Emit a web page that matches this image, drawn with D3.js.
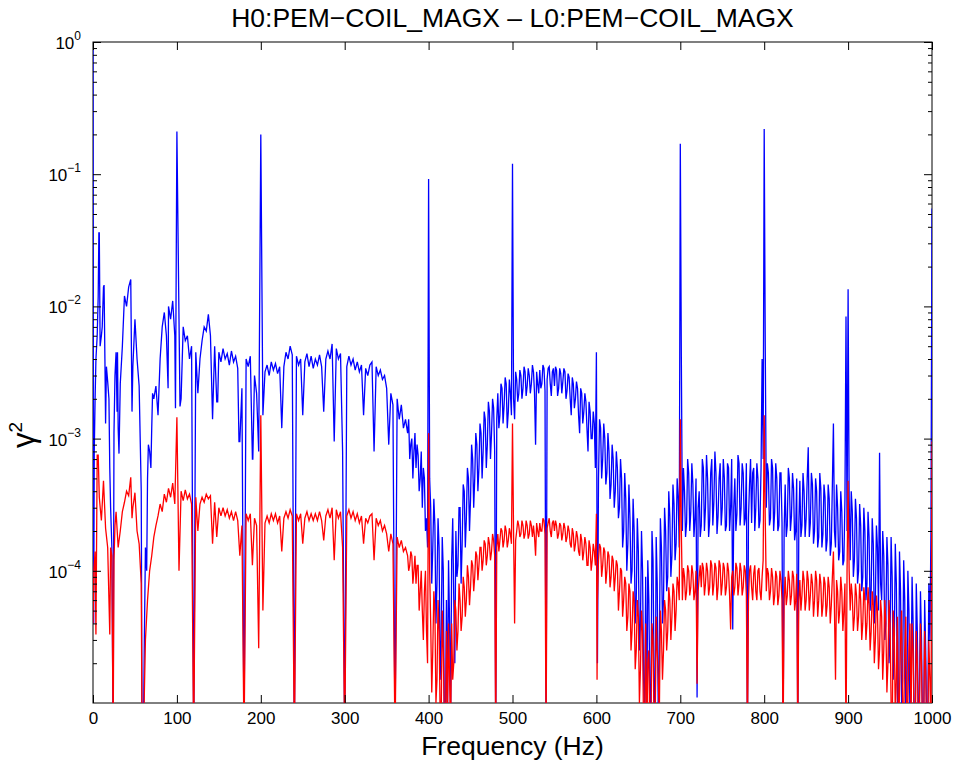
<!DOCTYPE html>
<html>
<head>
<meta charset="utf-8">
<script src="https://cdn.jsdelivr.net/npm/d3@7"></script>
<style>
  body { margin: 0; background: #fff; }
  text { font-family: "Liberation Sans", Arial, Helvetica, sans-serif; fill: #000; }
</style>
</head>
<body>
<svg id="chart"></svg>
<script>
// coherence spectra, sampled every 2.5 Hz (index * freqStep = frequency)
const freqStep = 2.5;
// the noisier upper band also has samples half way between grid points
const midStart = 376.25;

// H0 coherence (blue)
const blueGrid = [
  0.9, 2e-3, 6e-3, 3.6e-2, 6e-3, 1.4e-2, 1.3e-3, 2.7e-3, 6e-4, 1.5e-4,
  1.1e-3, 4.5e-3, 1.2e-3, 2.6e-3, 5e-3, 1.2e-2, 1e-2, 1.4e-2, 1.6e-2, 3.5e-3,
  8e-3, 4e-3, 2.5e-3, 4e-4, 5e-6, 1.5e-4, 5e-4, 8e-4, 1.2e-3, 2e-3,
  2.5e-3, 1.5e-3, 4e-3, 7e-3, 9e-3, 6e-3, 1e-2, 8e-3, 1.1e-2, 6e-3,
  0.21, 8e-3, 2e-3, 7e-3, 5.5e-3, 6e-3, 4e-3, 5e-3, 5e-6, 4.5e-3,
  2.2e-3, 4e-3, 5.5e-3, 7e-3, 6.5e-3, 8.7e-3, 6e-3, 1.4e-3, 5e-3, 1.9e-3,
  4.5e-3, 3.8e-3, 4.8e-3, 4e-3, 4.4e-3, 3.6e-3, 4.6e-3, 3.8e-3, 4.2e-3, 3.4e-3,
  9.5e-4, 2.4e-3, 5e-6, 4e-3, 3.5e-3, 4.2e-3, 7e-4, 3e-3, 2.2e-3, 8e-4,
  0.2, 1.5e-3, 3.2e-3, 3.6e-3, 3e-3, 3.8e-3, 3.3e-3, 3.7e-3, 3.1e-3, 3.5e-3,
  1.2e-3, 3.5e-3, 4.5e-3, 4e-3, 5e-3, 4.3e-3, 5e-6, 4.2e-3, 3.6e-3, 4e-3,
  1.5e-3, 3.8e-3, 4.4e-3, 3.5e-3, 4.2e-3, 3.4e-3, 4e-3, 3.6e-3, 4.3e-3, 3.5e-3,
  1.6e-3, 4e-3, 4.6e-3, 4e-3, 5.2e-3, 9.5e-4, 4.8e-3, 4e-3, 4.4e-3, 8e-4,
  5e-6, 3.5e-3, 4.2e-3, 3.6e-3, 4e-3, 3.3e-3, 3.8e-3, 3.2e-3, 3.6e-3, 1.5e-3,
  3.4e-3, 3e-3, 3.6e-3, 3.8e-3, 8e-4, 3.5e-3, 3e-3, 3.3e-3, 2.8e-3, 3e-3,
  2.4e-3, 9e-4, 2.2e-3, 1.8e-3, 5e-6, 2e-3, 1.4e-3, 1.8e-3, 1.2e-3, 1.4e-3,
  1.1e-3, 7e-4, 1e-3, 8e-4, 6e-4, 7.5e-4, 5e-4, 3e-4, 5e-4, 2.5e-4,
  9.2e-2, 3e-4, 1.5e-4, 2.2e-4, 8e-5, 1.5e-4, 3e-5, 1e-4, 5e-6, 8e-6,
  4e-5, 1.2e-4, 6e-5, 2e-4, 1.1e-4, 3e-4, 1.6e-4, 4e-4, 2.5e-4, 5e-4,
  3.5e-4, 7e-4, 5e-4, 9e-4, 6e-4, 1.1e-3, 8e-4, 1.4e-3, 9e-4, 1.6e-3,
  1.1e-3, 1.7e-3, 5e-6, 2.2e-3, 1.5e-3, 2.4e-3, 1.8e-3, 2.6e-3, 1.6e-3, 2.2e-3,
  0.12, 1.4e-3, 2.8e-3, 2.2e-3, 3e-3, 2.4e-3, 3.2e-3, 2.5e-3, 3e-3, 2.6e-3,
  3.2e-3, 9e-4, 2.6e-3, 3.3e-3, 2.6e-3, 3.4e-3, 5e-6, 3.4e-3, 2.6e-3, 3.2e-3,
  2.5e-3, 3.3e-3, 2.4e-3, 3.1e-3, 2.7e-3, 3.2e-3, 2.3e-3, 2.9e-3, 1.5e-3, 2.6e-3,
  2e-3, 2.4e-3, 1.1e-3, 2.2e-3, 1.6e-3, 1.9e-3, 8e-4, 1.6e-3, 1e-3, 1.3e-3,
  4.5e-3, 5e-4, 1.2e-3, 7e-4, 1e-3, 5.5e-4, 8e-4, 4.5e-4, 7e-4, 4e-4,
  6e-4, 3e-4, 5e-4, 2e-4, 3.5e-4, 1.6e-4, 2.5e-4, 1e-4, 2e-4, 6e-5,
  1.4e-4, 4e-5, 1e-4, 8e-6, 5e-6, 6e-5, 8e-6, 1.2e-4, 6e-6, 8e-5,
  2e-5, 1.5e-4, 6e-5, 2e-4, 9e-5, 2.6e-4, 1.3e-4, 3.2e-4, 1.6e-4, 3.5e-4,
  0.17, 2e-4, 4e-4, 2.3e-4, 5.5e-4, 2.8e-4, 4.5e-4, 2.5e-4, 1.1e-5, 4e-4,
  2.2e-4, 6e-4, 3e-4, 5e-4, 2.4e-4, 7e-4, 3.3e-4, 5.5e-4, 2.6e-4, 6.5e-4,
  3e-4, 5e-4, 2.2e-4, 6e-4, 3e-4, 3.6e-5, 5e-4, 2.7e-4, 6.5e-4, 3e-4,
  5.5e-4, 2.5e-4, 5e-6, 4.5e-4, 2.3e-4, 6e-4, 3e-4, 5e-4, 2.4e-4, 4e-3,
  0.22, 3e-4, 5.5e-4, 2.5e-4, 6e-4, 2.8e-4, 5e-4, 2.2e-4, 5.5e-4, 5e-6,
  4.5e-4, 2.2e-4, 5e-4, 2.6e-4, 4.2e-4, 2e-4, 5e-6, 4.8e-4, 2.2e-4, 4e-4,
  2.5e-4, 8.6e-4, 2.3e-4, 4.5e-4, 2e-4, 4e-4, 1.8e-4, 4.2e-4, 1.9e-4, 3.6e-4,
  1.7e-4, 3.5e-4, 1.6e-4, 1.3e-3, 1.5e-4, 3e-4, 1.4e-4, 2.8e-4, 1.2e-4, 8.4e-3,
  1.35e-2, 1.2e-4, 2.8e-4, 1.2e-4, 2.5e-4, 1e-4, 2.2e-4, 9e-5, 2e-4, 8e-5,
  1.8e-4, 7e-5, 1.6e-4, 6e-5, 1.5e-4, 7.8e-4, 6e-5, 1.3e-4, 4e-5, 1.1e-4,
  3e-5, 9e-5, 2.5e-5, 8e-5, 5e-6, 7e-5, 1.5e-5, 6e-5, 8e-6, 5e-5,
  1.2e-5, 4e-5, 6e-6, 3.5e-5, 1e-5, 3e-5, 6e-6, 2.5e-5, 8e-6, 3e-5,
  5.5e-2
];

// blue, half-step samples from 376.25 Hz
const blueMid = [
  1.4e-3, 9e-4, 5e-4, 1.1e-3, 9e-4, 4e-4, 8e-4, 6e-4, 2e-4, 1.5e-4,
  5e-4, 8e-5, 3.5e-4, 4e-5, 2.5e-4, 1.5e-5, 1.8e-4, 8e-6, 6e-5, 1.2e-4,
  8e-6, 2.5e-4, 2e-5, 9e-5, 3e-4, 8e-5, 4.5e-4, 1.5e-4, 6e-4, 2e-4,
  9e-4, 3e-4, 1.1e-3, 4e-4, 1.3e-3, 5e-4, 1.6e-3, 6e-4, 1.9e-3, 7e-4,
  2e-3, 8e-4, 1.4e-3, 1.2e-3, 2.6e-3, 1.3e-3, 2.9e-3, 1.2e-3, 2.8e-3, 1.5e-3,
  2e-3, 3.2e-3, 1.9e-3, 3.3e-3, 2e-3, 3.5e-3, 2.1e-3, 3.4e-3, 2.2e-3, 3.6e-3,
  2.2e-3, 3.2e-3, 2.2e-3, 2.4e-3, 3.6e-3, 2.3e-3, 2.8e-3, 3.5e-3, 2.1e-3, 3.4e-3,
  3.5e-3, 2.1e-3, 3.4e-3, 2.2e-3, 3.4e-3, 2e-3, 3.1e-3, 2e-3, 2.9e-3, 1.7e-3,
  2.7e-3, 1.5e-3, 2.4e-3, 1.3e-3, 2.2e-3, 1.2e-3, 1.9e-3, 1e-3, 1.6e-3, 6e-4,
  2e-5, 1.4e-3, 5e-4, 1.3e-3, 4.5e-4, 1.1e-3, 3.5e-4, 9e-4, 3e-4, 8e-4,
  2.5e-4, 7e-4, 1.5e-4, 5.5e-4, 1e-4, 4.5e-4, 8e-5, 3.5e-4, 4e-5, 2.5e-4,
  2.5e-5, 2e-4, 1.5e-5, 9e-5, 1.2e-4, 1.2e-5, 2e-4, 1.5e-5, 1.8e-4, 8e-6,
  2.5e-4, 4e-5, 3e-4, 7e-5, 4e-4, 9e-5, 4.5e-4, 1.2e-4, 5e-4, 1.5e-4,
  4e-3, 6e-4, 1.8e-4, 7e-4, 2e-4, 6.5e-4, 1.8e-4, 5e-4, 3e-4, 1.8e-4,
  7e-4, 2e-4, 7.5e-4, 1.8e-4, 5.5e-4, 2.2e-4, 8e-4, 1.9e-4, 5e-4, 2.2e-4,
  7e-4, 2e-4, 6.5e-4, 2e-4, 7e-4, 3e-4, 2e-4, 7.5e-4, 2.2e-4, 6.5e-4,
  2.2e-4, 6.5e-4, 2.5e-4, 7e-4, 5.5e-4, 2e-4, 6.5e-4, 2.1e-4, 6e-4, 7e-4,
  5e-3, 6.5e-4, 2.2e-4, 7e-4, 2e-4, 6.5e-4, 2e-4, 5.5e-4, 2.3e-4, 2e-4,
  1.8e-4, 6e-4, 2e-4, 5.5e-4, 1.7e-4, 5e-4, 2.2e-4, 1.8e-4, 5.5e-4, 1.8e-4,
  5e-4, 1.8e-4, 5.5e-4, 1.6e-4, 5e-4, 1.5e-4, 5.5e-4, 1.5e-4, 4.5e-4, 1.4e-4,
  4.5e-4, 1.3e-4, 4.5e-4, 2e-4, 4.5e-4, 1.2e-4, 4e-4, 1.1e-4, 3.5e-4, 2e-4,
  3.5e-4, 4e-4, 9e-5, 3.5e-4, 8e-5, 3.2e-4, 7e-5, 3e-4, 6e-5, 2.8e-4,
  5e-5, 2.5e-4, 4e-5, 2.2e-4, 5e-5, 8e-5, 2e-4, 3e-5, 1.8e-4, 2e-5,
  1.8e-4, 1.5e-5, 1.6e-4, 1.2e-5, 1.4e-4, 1e-5, 1.2e-4, 8e-6, 1e-4, 7e-6,
  9e-5, 6e-6, 8e-5, 7e-6, 7e-5, 6e-6, 6e-5, 6e-6, 8e-5, 2e-4
];

// extra blue samples between grid points (narrow peaks and notches)
const blueExtra = [
  [0.8, 4e-5], [1.5, 8e-4], [3.5, 4e-3], [6.2, 1.2e-2], [7, 3.6e-2], [8.5, 5e-3],
  [11, 7e-3], [13.2, 1.45e-2], [14.2, 4e-3], [16, 3.5e-3], [19, 2e-3], [21, 3e-4],
  [24, 5e-6], [26.2, 3e-3], [28.7, 1.6e-3], [29.2, 4.5e-3], [31, 7.7e-4], [46.5, 1.6e-3],
  [58.5, 5e-6], [61.2, 3e-5], [64, 1e-4], [66, 9e-4], [69, 6e-4], [71, 2.2e-3],
  [89.5, 2.4e-3], [98.3, 1.7e-3], [103.7, 1.75e-3], [148.6, 1.9e-3], [174, 9.5e-4], [190.5, 7e-4]
];

// L0 coherence (red)
const redGrid = [
  4e-5, 1.4e-4, 7.5e-4, 3.6e-4, 2.4e-4, 4.8e-4, 2.1e-4, 1.5e-4, 3.3e-5, 1.3e-4,
  1.2e-4, 2.8e-4, 1.5e-4, 2e-4, 2.8e-4, 3.3e-4, 4e-4, 3.7e-4, 5.1e-4, 3e-4,
  3.9e-4, 2e-4, 1.6e-4, 8e-5, 5e-6, 3e-5, 6e-5, 1e-4, 1.3e-4, 1.8e-4,
  2.2e-4, 2.6e-4, 3.2e-4, 2.8e-4, 3.8e-4, 3.3e-4, 4.2e-4, 3.6e-4, 4.6e-4, 3.2e-4,
  1.45e-3, 1e-4, 4e-4, 3.4e-4, 4.1e-4, 3.5e-4, 3.8e-4, 3.2e-4, 5e-6, 3.6e-4,
  2e-4, 3.2e-4, 3.6e-4, 3.3e-4, 3.8e-4, 3.5e-4, 3.7e-4, 1.6e-4, 3.3e-4, 1.8e-4,
  3e-4, 2.6e-4, 3e-4, 2.6e-4, 2.9e-4, 2.5e-4, 2.8e-4, 2.4e-4, 2.8e-4, 2.4e-4,
  1.3e-4, 2.2e-4, 5e-6, 2.7e-4, 2.4e-4, 2.7e-4, 1.1e-4, 2.5e-4, 2.2e-4, 2.6e-5,
  1.5e-3, 5e-5, 2.3e-4, 2.6e-4, 2.3e-4, 2.7e-4, 2.4e-4, 2.7e-4, 2.3e-4, 2.6e-4,
  1.4e-4, 2.5e-4, 2.8e-4, 2.5e-4, 2.9e-4, 2.6e-4, 5e-6, 2.7e-4, 2.4e-4, 2.7e-4,
  1.6e-4, 2.5e-4, 2.8e-4, 2.4e-4, 2.7e-4, 2.4e-4, 2.7e-4, 2.4e-4, 2.8e-4, 2.4e-4,
  1.7e-4, 2.6e-4, 2.9e-4, 2.5e-4, 3e-4, 1.2e-4, 2.9e-4, 2.5e-4, 2.8e-4, 1.5e-4,
  5e-6, 2.6e-4, 2.9e-4, 2.5e-4, 2.8e-4, 2.4e-4, 2.7e-4, 2.3e-4, 2.6e-4, 1.6e-4,
  2.5e-4, 2.3e-4, 2.6e-4, 2.7e-4, 1.2e-4, 2.5e-4, 2.2e-4, 2.4e-4, 2e-4, 2.2e-4,
  1.9e-4, 1.4e-4, 1.9e-4, 1.6e-4, 5e-6, 1.8e-4, 1.5e-4, 1.7e-4, 1.4e-4, 1.5e-4,
  1.3e-4, 1.1e-4, 1.3e-4, 1e-4, 8e-5, 1.1e-4, 7e-5, 5e-5, 7e-5, 3.5e-5,
  1.1e-3, 4e-5, 2.5e-5, 5e-5, 1.5e-5, 3.5e-5, 8e-6, 2.5e-5, 5e-6, 8e-6,
  1.5e-5, 4e-5, 2e-5, 5e-5, 3.5e-5, 6e-5, 4.5e-5, 7.5e-5, 6e-5, 9e-5,
  7.5e-5, 1.1e-4, 9e-5, 1.3e-4, 1.1e-4, 1.5e-4, 1.2e-4, 1.6e-4, 1.3e-4, 1.6e-4,
  1.4e-4, 1.7e-4, 5e-6, 1.9e-4, 1.7e-4, 2e-4, 1.7e-4, 2e-4, 1.7e-4, 1.9e-4,
  1.3e-3, 4e-5, 2e-4, 2.2e-4, 1.9e-4, 2.2e-4, 1.9e-4, 2.2e-4, 1.9e-4, 2.2e-4,
  2.2e-4, 1.3e-4, 2e-4, 2.3e-4, 2e-4, 2.4e-4, 5e-6, 2.3e-4, 2e-4, 2.3e-4,
  2e-4, 2.2e-4, 1.9e-4, 2.2e-4, 1.9e-4, 2.1e-4, 1.8e-4, 2e-4, 1.5e-4, 1.9e-4,
  1.6e-4, 1.8e-4, 1.3e-4, 1.7e-4, 1.4e-4, 1.6e-4, 1.1e-4, 1.5e-4, 1.2e-4, 1.4e-4,
  2.7e-4, 1.2e-4, 1.5e-4, 1.1e-4, 1.4e-4, 1e-4, 1.3e-4, 9e-5, 1.2e-4, 9e-5,
  1.1e-4, 7e-5, 1e-4, 6e-5, 8e-5, 4.5e-5, 7e-5, 3.5e-5, 6e-5, 2.5e-5,
  4.5e-5, 1.8e-5, 3.5e-5, 8e-6, 5e-6, 2.5e-5, 7e-6, 3e-5, 6e-6, 2.5e-5,
  8e-6, 3.5e-5, 2.5e-5, 5e-5, 3.5e-5, 6e-5, 4.5e-5, 7e-5, 5e-5, 8e-5,
  1.4e-3, 6e-5, 9e-5, 7e-5, 1e-4, 7.5e-5, 9.5e-5, 7e-5, 1.4e-5, 9e-5,
  7.5e-5, 1.05e-4, 8e-5, 1e-4, 7.5e-5, 1.1e-4, 8e-5, 1.05e-4, 7.5e-5, 1.1e-4,
  8e-5, 1.05e-4, 7.5e-5, 1e-4, 3.6e-5, 1e-4, 7.5e-5, 1.05e-4, 8e-5, 1e-4,
  7.5e-5, 1e-4, 5e-6, 1e-4, 7.5e-5, 9.5e-5, 7e-5, 1e-4, 7e-5, 9e-5,
  1.5e-3, 7e-5, 9.5e-5, 7e-5, 9e-5, 6.5e-5, 9e-5, 6.5e-5, 8.5e-5, 5e-6,
  9e-5, 6.5e-5, 8.5e-5, 6.5e-5, 9e-5, 6e-5, 5e-6, 8.5e-5, 6.5e-5, 8.5e-5,
  6e-5, 8.5e-5, 6.5e-5, 8e-5, 6e-5, 8.5e-5, 6e-5, 8e-5, 5.5e-5, 8e-5,
  5.5e-5, 7.5e-5, 5.5e-5, 1.4e-4, 1.5e-5, 7e-5, 5e-5, 7e-5, 5e-5, 5e-6,
  4.8e-4, 5e-5, 6.5e-5, 4.5e-5, 6.5e-5, 4.5e-5, 6e-5, 4e-5, 6e-5, 4e-5,
  5.5e-5, 3.5e-5, 5.5e-5, 3e-5, 5e-5, 2.5e-5, 4.5e-5, 2.5e-5, 4e-5, 2e-5,
  4e-5, 5e-6, 3.5e-5, 1.5e-5, 5e-6, 3e-5, 8e-6, 2.5e-5, 6e-6, 2.5e-5,
  7e-6, 2.5e-5, 5e-6, 2e-5, 8e-6, 2e-5, 5e-6, 1.8e-5, 6e-6, 1.5e-5,
  9.5e-4
];

// red, half-step samples from 376.25 Hz
const redMid = [
  1e-4, 1.4e-4, 8e-5, 1.3e-4, 1.1e-4, 5e-5, 1e-4, 3e-5, 1e-4, 2e-5,
  1e-4, 1.2e-5, 7e-5, 1e-5, 6e-5, 8e-6, 5e-5, 7e-6, 3.5e-5, 4e-5,
  6e-6, 1.5e-5, 6e-5, 2.5e-5, 8e-5, 3.5e-5, 9e-5, 4.5e-5, 1.1e-4, 5.5e-5,
  1.2e-4, 7e-5, 1.4e-4, 8.5e-5, 1.5e-4, 1e-4, 1.7e-4, 1.1e-4, 1.8e-4, 1.2e-4,
  1.9e-4, 1.3e-4, 1.5e-4, 1.4e-4, 2.1e-4, 1.5e-4, 2.2e-4, 1.5e-4, 2.1e-4, 1.6e-4,
  2e-4, 1.7e-4, 2.4e-4, 1.8e-4, 2.4e-4, 1.75e-4, 2.4e-4, 1.75e-4, 2.4e-4, 1.8e-4,
  1.8e-4, 2.3e-4, 1.8e-4, 2e-4, 2.5e-4, 1.9e-4, 2.1e-4, 2.5e-4, 1.8e-4, 2.4e-4,
  2.4e-4, 1.75e-4, 2.3e-4, 1.7e-4, 2.3e-4, 1.65e-4, 2.2e-4, 1.6e-4, 2.1e-4, 1.4e-4,
  2e-4, 1.4e-4, 1.9e-4, 1.2e-4, 1.8e-4, 1.1e-4, 1.7e-4, 1e-4, 1.6e-4, 1.1e-4,
  6e-5, 1.6e-4, 9e-5, 1.5e-4, 8e-5, 1.4e-4, 7.5e-5, 1.3e-4, 7e-5, 1.2e-4,
  5e-5, 1.05e-4, 4.5e-5, 9e-5, 3.5e-5, 8e-5, 2.5e-5, 7e-5, 1.8e-5, 6e-5,
  1e-5, 5e-5, 6e-6, 4e-5, 2e-5, 5e-6, 4e-5, 6e-6, 4.5e-5, 1.5e-5,
  5e-5, 1.5e-5, 6e-5, 2.5e-5, 7.5e-5, 3e-5, 8e-5, 3.5e-5, 9e-5, 6e-5,
  2e-4, 1.05e-4, 6e-5, 1.1e-4, 6.5e-5, 1.1e-4, 6e-5, 1e-4, 7e-5, 1.1e-4,
  1.15e-4, 6.5e-5, 1.15e-4, 6.5e-5, 1.2e-4, 6.5e-5, 1.15e-4, 6e-5, 1.2e-4, 6.5e-5,
  1.15e-4, 6.5e-5, 1.15e-4, 6.5e-5, 9e-5, 6.5e-5, 1.15e-4, 6.5e-5, 1.15e-4, 6.5e-5,
  1.1e-4, 6.5e-5, 6e-5, 1.1e-4, 6e-5, 1.1e-4, 6e-5, 1.05e-4, 6e-5, 1.2e-4,
  2.5e-4, 1.05e-4, 6e-5, 1.05e-4, 5.5e-5, 1e-4, 5.5e-5, 1e-4, 6e-5, 6e-5,
  5.5e-5, 1e-4, 5.5e-5, 1e-4, 5e-5, 9.5e-5, 6e-5, 5e-5, 1e-4, 5e-5,
  1e-4, 5e-5, 9.5e-5, 4.5e-5, 1e-4, 4.5e-5, 9.5e-5, 4.5e-5, 9e-5, 4.5e-5,
  9e-5, 4e-5, 9e-5, 5e-5, 8.5e-5, 4e-5, 9e-5, 3.5e-5, 8e-5, 1e-4,
  1e-4, 8e-5, 3.5e-5, 8e-5, 3.5e-5, 8e-5, 3e-5, 7.5e-5, 3e-5, 7.5e-5,
  2.5e-5, 7e-5, 2e-5, 6.5e-5, 1.8e-5, 6e-5, 1.5e-5, 6e-5, 1.2e-5, 6e-5,
  1e-5, 5e-5, 8e-6, 4.5e-5, 1.2e-5, 5e-5, 7e-6, 4.5e-5, 1e-5, 4e-5,
  4e-5, 6e-6, 3.5e-5, 6e-6, 4e-5, 5e-6, 3.5e-5, 5e-6, 3e-5, 6e-6
];

const redExtra = [
  [1, 1e-4], [3.5, 3.3e-5], [6.2, 7.5e-4], [21, 1.5e-4], [24, 5e-6], [26.2, 2.2e-4],
  [46.5, 2.5e-4], [58.5, 5e-6], [600.8, 1.5e-5]
];

const xTicks = [0, 100, 200, 300, 400, 500, 600, 700, 800, 900, 1000];
const yTicks = [1e-4, 1e-3, 1e-2, 1e-1, 1];
const yExponents = ["−4", "−3", "−2", "−1", "0"];

const width = 954, height = 763;
const margin = {top: 42, right: 22, bottom: 60, left: 93};
const plotW = width - margin.left - margin.right;
const plotH = height - margin.top - margin.bottom;

const svg = d3.select("#chart").attr("width", width).attr("height", height);

const x = d3.scaleLinear().domain([0, 1000]).range([0, plotW]);
const y = d3.scaleLog().domain([1e-5, 1]).range([plotH, 0]);

const g = svg.append("g").attr("transform", "translate(" + margin.left + "," + margin.top + ")");

g.append("clipPath").attr("id", "plotclip")
  .append("rect").attr("width", plotW).attr("height", plotH);

function series(grid, mid, extra) {
  const pts = grid.map((v, i) => [i * freqStep, v])
    .concat(mid.map((v, i) => [midStart + i * freqStep, v]))
    .concat(extra);
  pts.sort((a, b) => a[0] - b[0]);
  return pts;
}

const line = d3.line().x(d => x(d[0])).y(d => y(d[1]));

// frame
g.append("rect").attr("width", plotW).attr("height", plotH)
  .attr("fill", "none").attr("stroke", "#000").attr("stroke-width", 1);

const lines = g.append("g").attr("clip-path", "url(#plotclip)");
lines.append("path").datum(series(blueGrid, blueMid, blueExtra))
  .attr("d", line).attr("fill", "none").attr("stroke", "#0000ff").attr("stroke-width", 1.3);
lines.append("path").datum(series(redGrid, redMid, redExtra))
  .attr("d", line).attr("fill", "none").attr("stroke", "#ff0000").attr("stroke-width", 1.3);

// x axes (ticks inward)
const xb = g.append("g").attr("transform", "translate(0," + plotH + ")")
  .call(d3.axisBottom(x).tickValues(xTicks).tickSize(-8).tickSizeOuter(0)
    .tickPadding(9).tickFormat(d3.format("d")));
xb.selectAll("text").style("font-size", "17px");
g.append("g").call(d3.axisTop(x).tickValues(xTicks).tickSize(-8).tickSizeOuter(0).tickFormat(""));

// y axes, major and minor ticks
const minor = [];
for (let k = -5; k < 0; k++) for (let m = 2; m <= 9; m++) minor.push(m * Math.pow(10, k));

g.append("g").call(d3.axisLeft(y).tickValues(yTicks).tickSize(-8).tickSizeOuter(0).tickFormat(""));
g.append("g").call(d3.axisLeft(y).tickValues(minor).tickSize(-4).tickSizeOuter(0).tickFormat(""));
g.append("g").attr("transform", "translate(" + plotW + ",0)")
  .call(d3.axisRight(y).tickValues(yTicks).tickSize(-8).tickSizeOuter(0).tickFormat(""));
g.append("g").attr("transform", "translate(" + plotW + ",0)")
  .call(d3.axisRight(y).tickValues(minor).tickSize(-4).tickSizeOuter(0).tickFormat(""));

g.selectAll(".domain").remove();
g.selectAll(".tick line").attr("stroke", "#000");

// y tick labels 10^k
const ylab = g.append("g").selectAll("text").data(yTicks).join("text")
  .attr("x", -12).attr("y", d => y(d) + 7)
  .attr("text-anchor", "end").style("font-size", "17px");
ylab.append("tspan").text("10");
ylab.append("tspan").attr("dy", -9).style("font-size", "12px").text((d, i) => yExponents[i]);

// titles
svg.append("text").attr("x", margin.left + plotW / 2).attr("y", 27)
  .attr("text-anchor", "middle").style("font-size", "26.5px")
  .text("H0:PEM\u2212COIL_MAGX \u2013 L0:PEM\u2212COIL_MAGX");

svg.append("text").attr("x", margin.left + plotW / 2).attr("y", 755)
  .attr("text-anchor", "middle").style("font-size", "26.5px")
  .text("Frequency (Hz)");

const yl = svg.append("text").attr("transform", "translate(34,435) rotate(-90)")
  .attr("text-anchor", "middle").style("font-size", "31px");
yl.append("tspan").text("\u03b3");
yl.append("tspan").attr("dy", -12).style("font-size", "19px").text("2");
</script>
</body>
</html>
